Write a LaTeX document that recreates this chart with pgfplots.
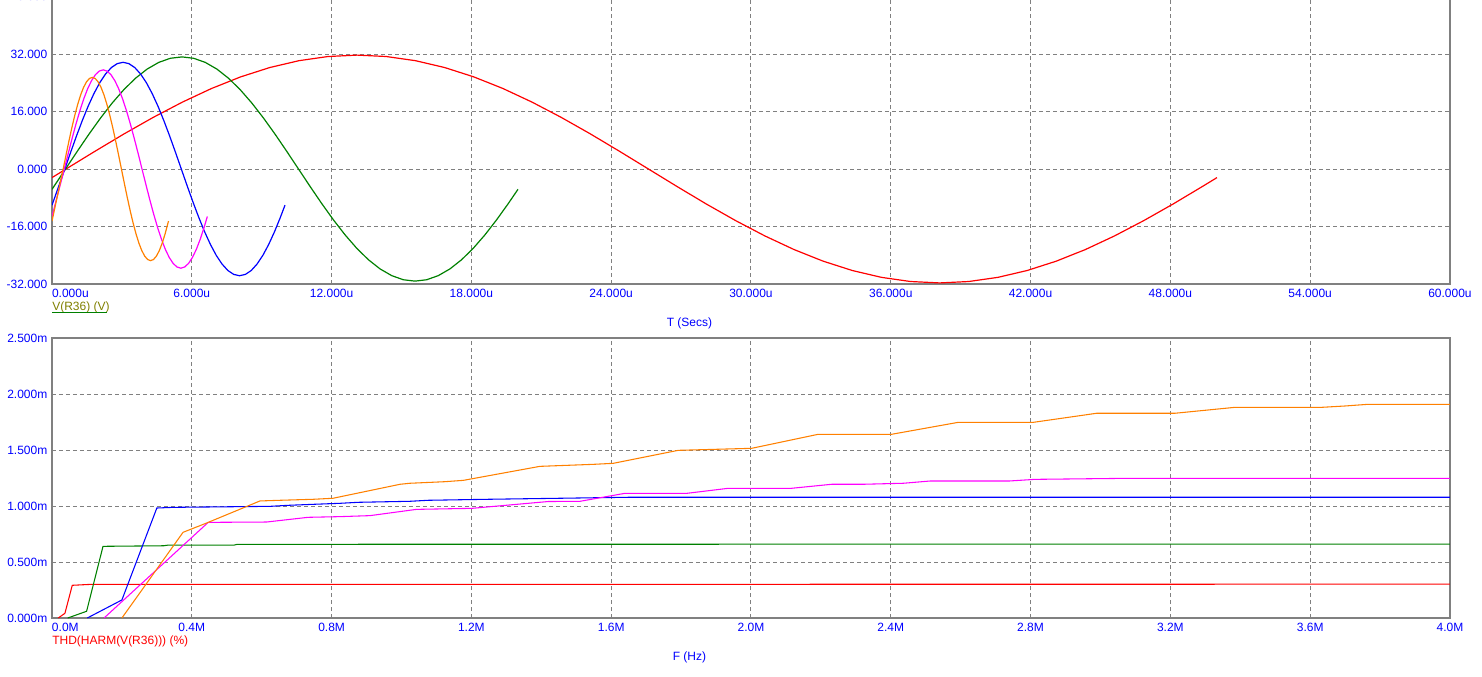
\documentclass[border=0pt]{standalone}
\usepackage{fontspec}
\setmainfont{Liberation Sans}
\usepackage{pgfplots}
\pgfplotsset{compat=1.18}
\definecolor{gridgray}{RGB}{128,128,128}
\definecolor{tickblue}{RGB}{0,0,255}
\definecolor{cgreen}{RGB}{0,128,0}
\definecolor{corange}{RGB}{255,128,0}
\definecolor{cmag}{RGB}{255,0,255}
\definecolor{cred}{RGB}{255,0,0}
\definecolor{colive}{RGB}{128,128,0}

% 1 px of the reference = 0.75pt
\pgfplotsset{
  scope/.style={
    scale only axis,
    width=1048.5pt,
    axis line style={draw=gridgray, line width=1.1pt},
    grid=major,
    grid style={draw=gridgray, line width=0.75pt, dash pattern=on 3pt off 2.25pt},
    major tick length=0pt,
    tick style={draw=none},
    tick label style={font=\fontsize{9}{10}\selectfont, text=tickblue},
    xticklabel style={yshift=-0.5pt},
    clip=true,
  },
  wave/.style={line width=0.9pt},
  thd/.style={line width=0.8pt},
}

\begin{document}
\begin{tikzpicture}

% ---------------- transient ----------------
\begin{axis}[scope,
  at={(39pt,-213pt)}, anchor=south west,
  height=215.6pt,
  xmin=0, xmax=60, ymin=-32, ymax=48,
  xtick={0,6,12,18,24,30,36,42,48,54,60},
  xticklabels={\makebox[0pt][l]{0.000u},6.000u,12.000u,18.000u,24.000u,30.000u,36.000u,42.000u,48.000u,54.000u,60.000u},
  ytick={-32,-16,0,16,32,48},
  yticklabels={-32.000,-16.000,0.000,16.000,32.000,48.000},
]
\addplot[wave, cred] coordinates {
(0,-2.39)(0.6,0)(1.85,4.96)(3.1,9.80)(4.35,14.39)(5.6,18.63)(6.85,22.42)(8.1,25.65)(9.35,28.25)(10.6,30.15)(11.85,31.31)(13.1,31.7)(14.35,31.31)(15.6,30.15)(16.85,28.25)(18.1,25.65)(19.35,22.42)(20.6,18.63)(21.85,14.39)(23.1,9.80)(24.35,4.96)(25.6,0)(26.85,-4.96)(28.1,-9.80)(29.35,-14.39)(30.6,-18.63)(31.85,-22.42)(33.1,-25.65)(34.35,-28.25)(35.6,-30.15)(36.85,-31.31)(38.1,-31.7)(39.35,-31.31)(40.6,-30.15)(41.85,-28.25)(43.1,-25.65)(44.35,-22.42)(45.6,-18.63)(46.85,-14.39)(48.1,-9.80)(49.35,-4.96)(50,-2.39)
};
\addplot[wave, cgreen] coordinates {
(0,-5.65)(0.58,0)(1.08,4.88)(1.58,9.64)(2.08,14.16)(2.58,18.34)(3.08,22.06)(3.58,25.24)(4.08,27.80)(4.58,29.67)(5.08,30.82)(5.58,31.2)(6.08,30.82)(6.58,29.67)(7.08,27.80)(7.58,25.24)(8.08,22.06)(8.58,18.34)(9.08,14.16)(9.58,9.64)(10.08,4.88)(10.58,0)(11.08,-4.88)(11.58,-9.64)(12.08,-14.16)(12.58,-18.34)(13.08,-22.06)(13.58,-25.24)(14.08,-27.80)(14.58,-29.67)(15.08,-30.82)(15.58,-31.2)(16.08,-30.82)(16.58,-29.67)(17.08,-27.80)(17.58,-25.24)(18.08,-22.06)(18.58,-18.34)(19.08,-14.16)(19.58,-9.64)(20,-5.65)
};
\addplot[wave, blue] coordinates {
(0,-10.06)(0.55,0)(0.8,4.65)(1.05,9.18)(1.3,13.48)(1.55,17.46)(1.8,21.00)(2.05,24.03)(2.3,26.46)(2.55,28.25)(2.8,29.33)(3.05,29.7)(3.3,29.33)(3.55,28.25)(3.8,26.46)(4.05,24.03)(4.3,21.00)(4.55,17.46)(4.8,13.48)(5.05,9.18)(5.3,4.65)(5.55,0)(5.8,-4.65)(6.05,-9.18)(6.3,-13.48)(6.55,-17.46)(6.8,-21.00)(7.05,-24.03)(7.3,-26.46)(7.55,-28.25)(7.8,-29.33)(8.05,-29.7)(8.3,-29.33)(8.55,-28.25)(8.8,-26.46)(9.05,-24.03)(9.3,-21.00)(9.55,-17.46)(9.8,-13.48)(10,-10.06)
};
\addplot[wave, cmag] coordinates {
(0,-13.21)(0.53,0)(0.697,4.32)(0.863,8.53)(1.03,12.53)(1.197,16.22)(1.363,19.52)(1.53,22.33)(1.697,24.59)(1.863,26.25)(2.03,27.26)(2.197,27.6)(2.363,27.26)(2.53,26.25)(2.697,24.59)(2.863,22.33)(3.03,19.52)(3.197,16.22)(3.363,12.53)(3.53,8.53)(3.697,4.32)(3.863,0)(4.03,-4.32)(4.197,-8.53)(4.363,-12.53)(4.53,-16.22)(4.697,-19.52)(4.863,-22.33)(5.03,-24.59)(5.197,-26.25)(5.363,-27.26)(5.53,-27.6)(5.697,-27.26)(5.863,-26.25)(6.03,-24.59)(6.197,-22.33)(6.363,-19.52)(6.53,-16.22)(6.667,-13.21)
};
\addplot[wave, corange] coordinates {
(0,-14.48)(0.48,0)(0.605,3.99)(0.73,7.88)(0.855,11.58)(0.98,14.99)(1.105,18.03)(1.23,20.63)(1.355,22.72)(1.48,24.25)(1.605,25.19)(1.73,25.5)(1.855,25.19)(1.98,24.25)(2.105,22.72)(2.23,20.63)(2.355,18.03)(2.48,14.99)(2.605,11.58)(2.73,7.88)(2.855,3.99)(2.98,0)(3.105,-3.99)(3.23,-7.88)(3.355,-11.58)(3.48,-14.99)(3.605,-18.03)(3.73,-20.63)(3.855,-22.72)(3.98,-24.25)(4.105,-25.19)(4.23,-25.5)(4.355,-25.19)(4.48,-24.25)(4.605,-22.72)(4.73,-20.63)(4.855,-18.03)(4.98,-14.99)(5.0,-14.48)
};
\end{axis}

% ---------------- THD ----------------
\begin{axis}[scope,
  at={(39pt,-463.5pt)}, anchor=south west,
  height=210pt,
  xmin=0, xmax=4, ymin=0, ymax=2.5,
  xtick={0,0.4,0.8,1.2,1.6,2.0,2.4,2.8,3.2,3.6,4.0},
  xticklabels={\makebox[0pt][l]{0.0M},0.4M,0.8M,1.2M,1.6M,2.0M,2.4M,2.8M,3.2M,3.6M,4.0M},
  ytick={0,0.5,1.0,1.5,2.0,2.5},
  yticklabels={0.000m,0.500m,1.000m,1.500m,2.000m,2.500m},
]
\addplot[thd, cred] coordinates {
(0.018,0)(0.037,0.042)(0.058,0.292)(0.109,0.300)(4.0,0.302)
};
\addplot[thd, cgreen] coordinates {
(0.045,0)(0.099,0.060)(0.146,0.640)(0.32,0.645)(0.33,0.650)(0.52,0.650)(0.53,0.658)(4.0,0.660)
};
\addplot[thd, blue] coordinates {
(0.101,0)(0.200,0.161)(0.300,0.982)(0.347,0.988)(0.624,0.997)(0.675,1.006)(0.747,1.015)(0.824,1.024)(0.876,1.033)(1.024,1.042)(1.076,1.051)(1.248,1.060)(1.451,1.069)(1.651,1.078)(4.0,1.078)
};
\addplot[thd, cmag] coordinates {
(0.149,0)(0.447,0.854)(0.614,0.857)(0.733,0.899)(0.824,0.905)(0.910,0.914)(1.043,0.970)(1.201,0.979)(1.42,1.040)(1.511,1.042)(1.639,1.113)(1.816,1.113)(1.935,1.158)(2.116,1.158)(2.231,1.194)(2.321,1.194)(2.436,1.203)(2.512,1.223)(2.738,1.223)(2.813,1.238)(3.075,1.247)(4.0,1.247)
};
\addplot[thd, corange] coordinates {
(0.200,0)(0.375,0.765)(0.44,0.845)(0.595,1.045)(0.652,1.051)(0.748,1.060)(0.804,1.069)(0.996,1.194)(1.024,1.203)(1.124,1.217)(1.177,1.229)(1.396,1.354)(1.549,1.372)(1.606,1.381)(1.792,1.497)(1.897,1.506)(2.002,1.515)(2.192,1.640)(2.402,1.640)(2.593,1.747)(2.808,1.747)(2.989,1.828)(3.213,1.828)(3.385,1.881)(3.633,1.881)(3.700,1.893)(3.766,1.908)(4.0,1.908)
};
\end{axis}

% labels
\node[anchor=west, inner sep=0pt, text=colive, font=\fontsize{9}{10}\selectfont] at (39pt,-230.25pt) {V(R36) (V)};
\draw[cgreen, line width=0.75pt] (39pt,-234.4pt) -- (80.25pt,-234.4pt);
\node[inner sep=0pt, text=tickblue, font=\fontsize{9}{10}\selectfont] at (517.1pt,-242.5pt) {T (Secs)};
\node[anchor=west, inner sep=0pt, text=cred, font=\fontsize{9}{10}\selectfont] at (39pt,-481.1pt) {THD(HARM(V(R36))) (\%)};
\node[inner sep=0pt, text=tickblue, font=\fontsize{9}{10}\selectfont] at (517.1pt,-492.75pt) {F (Hz)};

\pgfresetboundingbox
\path[use as bounding box] (0pt,0pt) rectangle (1111.5pt,-507.75pt);
\end{tikzpicture}
\end{document}
